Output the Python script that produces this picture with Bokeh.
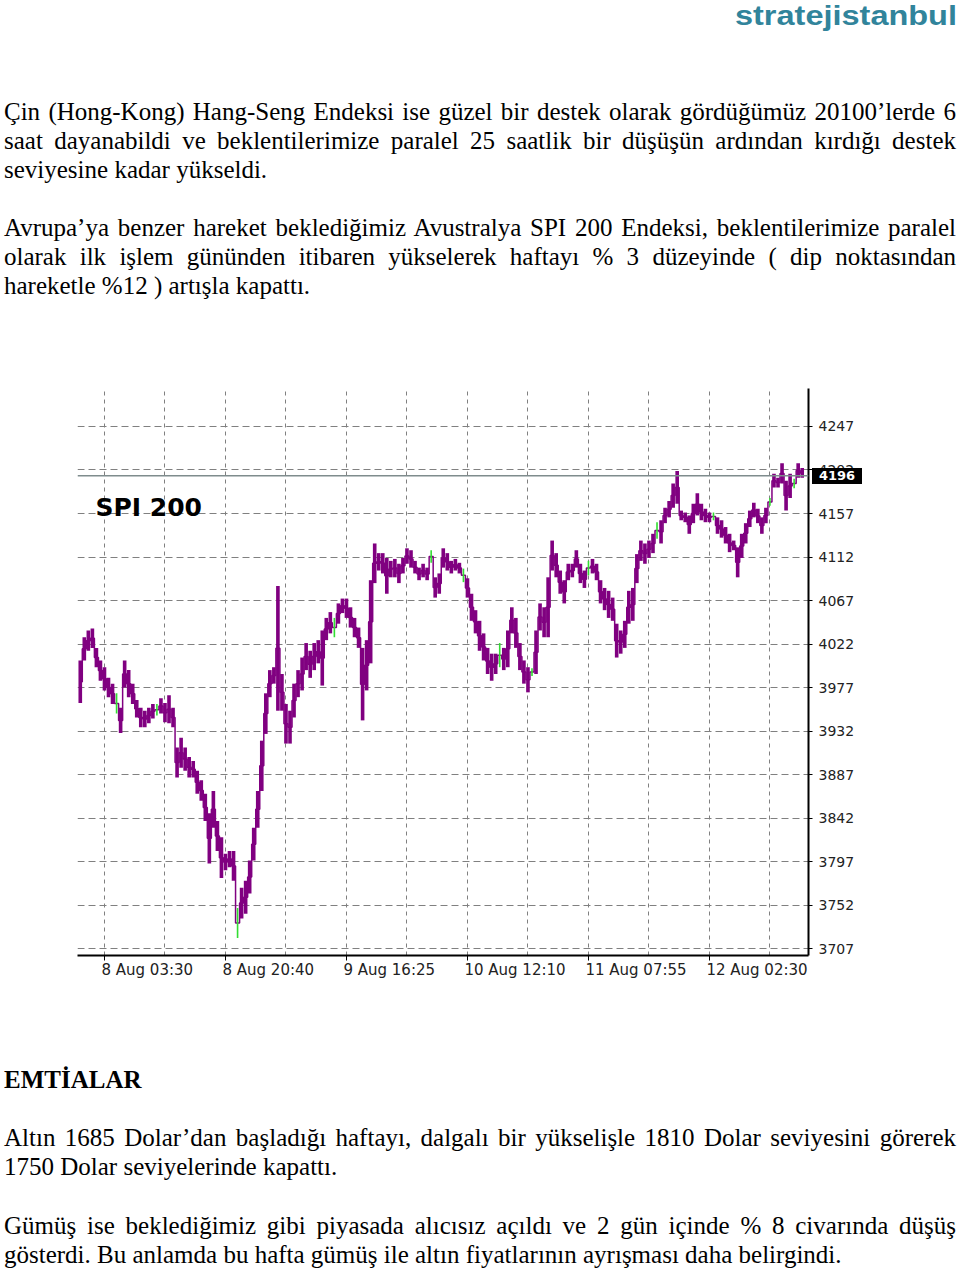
from bokeh.plotting import figure
from bokeh.models import Range1d, FixedTicker, Span, Label, Div
from bokeh.layouts import column
from bokeh.embed import file_html
from bokeh.resources import INLINE

# ---------------- text content ----------------
title_text = "stratejistanbul"
para1 = [
    "Çin (Hong-Kong) Hang-Seng Endeksi ise güzel bir destek olarak gördüğümüz 20100’lerde 6",
    "saat dayanabildi ve beklentilerimize paralel 25 saatlik bir düşüşün ardından kırdığı destek",
    "seviyesine kadar yükseldi.",
]
para2 = [
    "Avrupa’ya benzer hareket beklediğimiz Avustralya SPI 200 Endeksi, beklentilerimize paralel",
    "olarak ilk işlem gününden itibaren yükselerek haftayı % 3 düzeyinde ( dip noktasından",
    "hareketle %12 ) artışla kapattı.",
]
heading = "EMTİALAR"
para3 = [
    "Altın 1685 Dolar’dan başladığı haftayı, dalgalı bir yükselişle 1810 Dolar seviyesini görerek",
    "1750 Dolar seviyelerinde kapattı.",
]
para4 = [
    "Gümüş ise beklediğimiz gibi piyasada alıcısız açıldı ve 2 gün içinde % 8 civarında düşüş",
    "gösterdi. Bu anlamda bu hafta gümüş ile altın fiyatlarının ayrışması daha belirgindi.",
]

# ---------------- chart data ----------------
chart_label = "SPI 200"
x_tick_pos = [0, 30, 60, 90, 120, 150]
x_labels = ["8 Aug 03:30", "8 Aug 20:40", "9 Aug 16:25", "10 Aug 12:10", "11 Aug 07:55", "12 Aug 02:30"]
x_grid_pos = [0, 15, 30, 45, 60, 75, 90, 105, 120, 135, 150, 165]
y_ticks = [3707, 3752, 3797, 3842, 3887, 3932, 3977, 4022, 4067, 4112, 4157, 4202, 4247]
last_price = 4196

bar_index = list(range(-6, 174))
bar_high = [
    4005, 4029, 4036, 4038, 4018, 4005,
    3998, 3987, 3981, 3971, 3956, 4005, 3995, 3981, 3964, 3956,
    3953, 3956, 3960, 3960, 3966, 3961, 3969, 3956, 3915, 3925,
    3915, 3905, 3901, 3891, 3881, 3867, 3847, 3870, 3839, 3822,
    3805, 3808, 3808, 3749, 3770, 3777, 3798, 3832, 3870, 3922,
    3971, 3995, 3998, 4082, 3991, 3960, 3953, 3981, 3995, 4008,
    4023, 4015, 4023, 4026, 4036, 4049, 4055, 4049, 4064, 4069,
    4069, 4060, 4049, 4039, 4018, 4026, 4088, 4126, 4116, 4116,
    4111, 4108, 4110, 4105, 4111, 4121, 4119, 4108, 4101, 4105,
    4101, 4119, 4091, 4095, 4121, 4116, 4108, 4110, 4106, 4100,
    4090, 4074, 4057, 4046, 4033, 4018, 4012, 4012, 4023, 4018,
    4036, 4060, 4049, 4023, 4005, 3998, 3997, 4036, 4064, 4060,
    4091, 4129, 4116, 4098, 4088, 4105, 4105, 4119, 4105, 4098,
    4108, 4110, 4105, 4088, 4080, 4077, 4070, 4043, 4036, 4046,
    4077, 4080, 4115, 4129, 4126, 4129, 4136, 4148, 4150, 4163,
    4170, 4188, 4201, 4160, 4158, 4155, 4167, 4178, 4167, 4162,
    4158, 4158, 4153, 4150, 4143, 4136, 4129, 4122, 4136, 4147,
    4160, 4168, 4162, 4153, 4163, 4173, 4198, 4194, 4209, 4191,
    4198, 4193, 4209, 4204,
]
bar_low = [
    3961, 4005, 4015, 4018, 3998, 3984,
    3974, 3967, 3960, 3950, 3930, 3977, 3967, 3960, 3946, 3936,
    3936, 3940, 3945, 3948, 3950, 3941, 3940, 3936, 3884, 3894,
    3891, 3884, 3884, 3867, 3860, 3839, 3795, 3832, 3808, 3780,
    3788, 3791, 3777, 3718, 3738, 3743, 3764, 3798, 3832, 3870,
    3929, 3967, 3981, 3953, 3953, 3919, 3919, 3946, 3967, 3974,
    3995, 3987, 3995, 4002, 3979, 4026, 4033, 4029, 4043, 4054,
    4049, 4039, 4029, 4018, 3943, 3974, 4002, 4085, 4098, 4095,
    4074, 4091, 4091, 4085, 4095, 4105, 4101, 4095, 4088, 4091,
    4088, 4106, 4070, 4074, 4101, 4098, 4095, 4098, 4095, 4086,
    4070, 4046, 4033, 4015, 4005, 3991, 3984, 3991, 3998, 3995,
    3998, 4033, 4018, 3995, 3981, 3972, 3989, 3991, 4036, 4029,
    4029, 4098, 4091, 4074, 4064, 4088, 4091, 4101, 4085, 4080,
    4093, 4095, 4088, 4064, 4057, 4049, 4046, 4008, 4012, 4018,
    4043, 4046, 4085, 4108, 4105, 4111, 4116, 4131, 4126, 4147,
    4153, 4163, 4167, 4150, 4148, 4136, 4147, 4155, 4150, 4148,
    4148, 4150, 4136, 4132, 4126, 4117, 4119, 4091, 4111, 4126,
    4143, 4153, 4147, 4136, 4147, 4165, 4184, 4184, 4188, 4160,
    4173, 4183, 4194, 4194,
]
green_bars = [3, 13, 33, 57, 81, 89, 98, 106, 120, 137, 151, 165, 171]

PURPLE = "#800080"
GREEN = "#33dd33"
GRID = "#808080"
LABEL_FONT = "DejaVu Sans"
LABEL_PX = 15

up_x, up_t, up_b, dn_x, dn_t, dn_b = [], [], [], [], [], []
for i, h, l in zip(bar_index, bar_high, bar_low):
    if i in green_bars:
        up_x.append(i); up_t.append(h); up_b.append(l)
    else:
        dn_x.append(i); dn_t.append(h); dn_b.append(l)
mid = [(h + l) / 2 for h, l in zip(bar_high, bar_low)]

# ---------------- chart figure ----------------
X0, X1 = -6.69, 174.56
FRAME_W = 731
px_per_bar = FRAME_W / (X1 - X0)

p = figure(width=960, height=620,
           x_range=Range1d(X0, X1), y_range=Range1d(3699.8, 4286.3),
           y_axis_location="right", toolbar_location=None, output_backend="svg",
           min_border_left=77, min_border_right=960 - 77 - FRAME_W,
           min_border_top=8, min_border_bottom=45)
p.outline_line_color = None
p.background_fill_color = "white"
p.border_fill_color = "white"

p.xgrid.ticker = FixedTicker(ticks=x_grid_pos)
p.xgrid.grid_line_color = GRID
p.xgrid.grid_line_dash = "4 4"
p.xgrid.grid_line_width = 1
p.ygrid.ticker = FixedTicker(ticks=y_ticks)
p.ygrid.grid_line_color = GRID
p.ygrid.grid_line_dash = "7 4"
p.ygrid.grid_line_width = 1

p.add_layout(Span(location=last_price, dimension="width", line_color="#7f8c8d", line_width=1.5))

p.step(x=bar_index, y=mid, mode="center", line_color=PURPLE, line_width=1.5)
p.vbar(x=dn_x, top=dn_t, bottom=dn_b, width=0.9, color=PURPLE, line_width=0)
p.vbar(x=up_x, top=up_t, bottom=up_b, width=0.4, color=GREEN, line_width=0)

for ax in (p.xaxis, p.yaxis):
    ax.axis_line_color = "black"
    ax.axis_line_width = 2
    ax.major_tick_line_color = "black"
    ax.major_tick_in = 0
    ax.major_label_text_font = LABEL_FONT
    ax.major_label_text_color = "#222222"

p.yaxis.ticker = FixedTicker(ticks=y_ticks)
p.yaxis.minor_tick_line_color = None
p.yaxis.major_tick_out = 4
p.yaxis.major_label_standoff = 6
p.yaxis.major_label_text_font_size = "14px"

# x labels start at their tick (left-aligned): compute label centres from text width
ADV = {"0": .636, "1": .636, "2": .636, "3": .636, "4": .636, "5": .636, "6": .636,
       "7": .636, "8": .636, "9": .636, " ": .318, "A": .684, "u": .634, "g": .635, ":": .337}
label_centres = []
for t, lab in zip(x_tick_pos, x_labels):
    w = sum(ADV.get(c, .6) for c in lab) * LABEL_PX
    label_centres.append(round(t + (w / 2 - 3) / px_per_bar, 4))
p.xaxis.ticker = FixedTicker(ticks=label_centres, minor_ticks=x_tick_pos)
p.xaxis.major_label_overrides = dict(zip(label_centres, x_labels))
p.xaxis.major_tick_out = 0
p.xaxis.minor_tick_out = 5
p.xaxis.minor_tick_in = 0
p.xaxis.minor_tick_line_color = "black"
p.xaxis.minor_tick_line_width = 1
p.xaxis.major_label_standoff = 0
p.xaxis.major_label_text_font_size = f"{LABEL_PX}px"

p.add_layout(Label(x=-2.23, y=4163, text=chart_label, text_font=LABEL_FONT,
                   text_font_style="bold", text_font_size="25px", text_color="black",
                   text_baseline="middle"))

# ---------------- text blocks ----------------
def line_div(text, top, justify=True, lh=29, bold=False):
    align = "justify" if justify else "left"
    weight = "bold" if bold else "normal"
    return (f'<div style="position:absolute;left:4px;top:{top}px;width:952px;'
            f'line-height:{lh}px;text-align:{align};text-align-last:{align};'
            f'font-weight:{weight};white-space:normal;">{text}</div>')

base = "font-family:'Liberation Serif';font-size:25px;color:#000;"

top_html = (f'<div style="position:relative;width:960px;height:380px;{base}">'
            f'<div style="position:absolute;top:2px;left:0;width:957px;text-align:right;'
            f"font-family:'Liberation Sans';font-weight:bold;font-size:28px;line-height:28px;"
            f'transform:scaleX(1.16);transform-origin:right center;'
            f'color:#31849B;white-space:nowrap;">{title_text}</div>')
for k, t in enumerate(para1):
    top_html += line_div(t, 97 + 29 * k, justify=(k < len(para1) - 1))
for k, t in enumerate(para2):
    top_html += line_div(t, 213 + 29 * k, justify=(k < len(para2) - 1))
# current-price tag at the right of the chart's price axis
top_html += (f'<div style="position:absolute;left:812px;top:468px;width:50px;height:16px;'
             f'background:#000;color:#fff;font-family:\'{LABEL_FONT}\';font-weight:bold;'
             f'font-size:13px;line-height:16px;text-align:center;">{last_price}</div>')
top_html += '</div>'

bot_html = f'<div style="position:relative;width:960px;height:270px;{base}">'
bot_html += line_div(heading, 65, justify=False, bold=True)
for k, t in enumerate(para3):
    bot_html += line_div(t, 123 + 29 * k, justify=(k < len(para3) - 1))
for k, t in enumerate(para4):
    bot_html += line_div(t, 211 + 29 * k, justify=(k < len(para4) - 1))
bot_html += '</div>'

top_div = Div(text=top_html, width=960, height=380, margin=0,
              styles={"overflow": "visible", "position": "relative", "z-index": "10"})
bot_div = Div(text=bot_html, width=960, height=270, margin=0,
              styles={"overflow": "visible"})

layout = column(top_div, p, bot_div, spacing=0)

with open("out.html", "w", encoding="utf-8") as f:
    f.write(file_html(layout, INLINE, title="SPI 200"))
